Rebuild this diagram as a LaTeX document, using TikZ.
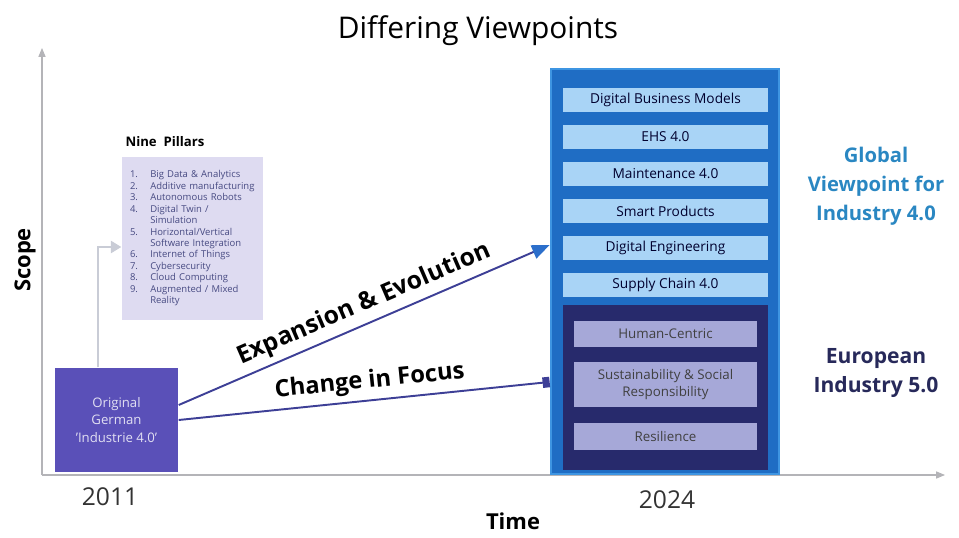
\documentclass[tikz,border=0pt]{standalone}
\usepackage{fontspec}
\setmainfont{Open Sans}
\usetikzlibrary{positioning,arrows.meta}

\definecolor{outerblue}{HTML}{1F6DC4}
\definecolor{edgeblue}{HTML}{3E95E2}
\definecolor{barblue}{HTML}{A9D4F6}
\definecolor{deepnavy}{HTML}{272A6C}
\definecolor{pilllav}{HTML}{A6A8D8}
\definecolor{origblue}{HTML}{5A50B8}
\definecolor{listbg}{HTML}{DEDBF1}
\definecolor{axisgray}{HTML}{B4B4B8}
\definecolor{feedgray}{HTML}{C9CCD6}
\definecolor{linenavy}{HTML}{3D3F96}
\definecolor{headblue}{HTML}{2C6FCB}
\definecolor{globalblue}{HTML}{2A87C2}
\definecolor{euronavy}{HTML}{27295A}

\begin{document}
\begin{tikzpicture}[x=0.02cm, y=-0.02cm, node distance={2.6mm}, thick,
    bar/.style = {fill=barblue, minimum width=4.1cm, minimum height=0.48cm, inner sep=1pt,
        outer sep=0pt, text=black!70!blue!60!black, font=\fontsize{7.8}{9}\selectfont},
    pill/.style = {fill=pilllav, minimum width=3.66cm, inner sep=1pt, outer sep=0pt,
        align=center, text=black!75, font=\fontsize{7.6}{10}\selectfont},
    axis/.style = {draw=axisgray, line width=0.6pt, -{Triangle[length=5pt,width=4pt]}},
    head/.style = {font=\bfseries\fontsize{12.5}{15}\selectfont},
    year/.style = {font=\fontsize{14}{16}\selectfont, text=black!80}
    ]
\useasboundingbox (0,0) rectangle (959,537);

\coordinate (o) at (42,475);
\coordinate (ytop) at (42,48);
\coordinate (xend) at (945,475);
\draw[axis] (o) -- (ytop);
\draw[axis] (o) -- (xend);

\node (t) at (478,31) {\fontsize{17}{20}\selectfont Differing Viewpoints};
\node[head, rotate=90] (s) at (25,260) {Scope};
\node[head] (tm) at (513,521) {Time};
\node[year] (y1) at (110,497) {2011};
\node[year] (y2) at (667,500) {2024};

% 2011 side
\node[fill=origblue, minimum width=2.46cm, minimum height=2.08cm, align=center,
    text=white!82!origblue, font=\fontsize{7.5}{10}\selectfont] (1) at (116.5,420)
    {Original\\German\\'Industrie 4.0'};
\node[fill=listbg, text width=2.5cm, inner xsep=0.16cm, minimum height=3.26cm,
    text=deepnavy!85, font=\fontsize{5.4}{6.5}\selectfont] (2) at (192.5,238.5) {%
    \begin{tabular}{@{}l@{\hspace{7pt}}l@{}}
    1. & Big Data \& Analytics\\
    2. & Additive manufacturing\\
    3. & Autonomous Robots\\
    4. & Digital Twin /\\
       & Simulation\\
    5. & Horizontal/Vertical\\
       & Software Integration\\
    6. & Internet of Things\\
    7. & Cybersecurity\\
    8. & Cloud Computing\\
    9. & Augmented / Mixed\\
       & Reality
    \end{tabular}};
\node[font=\bfseries\fontsize{7.5}{9}\selectfont] (3) at (165,142) {Nine\ \ Pillars};
\draw[feedgray, line width=1.2pt, -{Triangle[length=6pt,width=7pt]}]
    ([xshift=-0.37cm]1.north) |- ([yshift=-0.17cm]2.west);

% 2024 side
\node[fill=outerblue, draw=edgeblue, line width=1.6pt, minimum width=4.56cm,
    minimum height=8.1cm] (4) at (665,271.5) {};
\node[bar] (5) at (665.5,100) {Digital Business Models};
\node[bar] (6) [below=of 5] {EHS 4.0};
\node[bar] (7) [below=of 6] {Maintenance 4.0};
\node[bar] (8) [below=of 7] {Smart Products};
\node[bar] (9) [below=of 8] {Digital Engineering};
\node[bar] (10) [below=of 9] {Supply Chain 4.0};
\node[fill=deepnavy, outer sep=0pt, minimum width=4.1cm, minimum height=3.3cm] (11)
    [below=1.6mm of 10] {};
\node[pill, minimum height=0.52cm] (12) [below=3.2mm of 11.north] {Human-Centric};
\node[pill, minimum height=0.9cm] (13) [below=3mm of 12] {Sustainability \& Social\\Responsibility};
\node[pill, minimum height=0.54cm] (14) [below=3.2mm of 13] {Resilience};

\node[align=center, text=globalblue, font=\bfseries\fontsize{11.5}{16.5}\selectfont] (15)
    at (876,186) {Global\\Viewpoint for\\Industry 4.0};
\node[align=center, text=euronavy, font=\bfseries\fontsize{12}{17}\selectfont] (16)
    at (876,373) {European\\Industry 5.0};

\draw[linenavy, line width=1.1pt, -{Triangle[length=10pt,width=8pt,color=headblue]}]
    ([yshift=0.3cm]1.east) -- ([yshift=0.53cm]4.west)
    node[pos=0.52, above, sloped, text=black, font=\bfseries\fontsize{14}{16}\selectfont]
    {Expansion \& Evolution};
\draw[linenavy, line width=1.1pt, -{Square[length=4pt,width=6pt]}]
    (1.east) -- ([yshift=-2.21cm]4.west)
    node[pos=0.52, above, sloped, text=black, font=\bfseries\fontsize{13.5}{16}\selectfont]
    {Change in Focus};

\end{tikzpicture}
\end{document}
